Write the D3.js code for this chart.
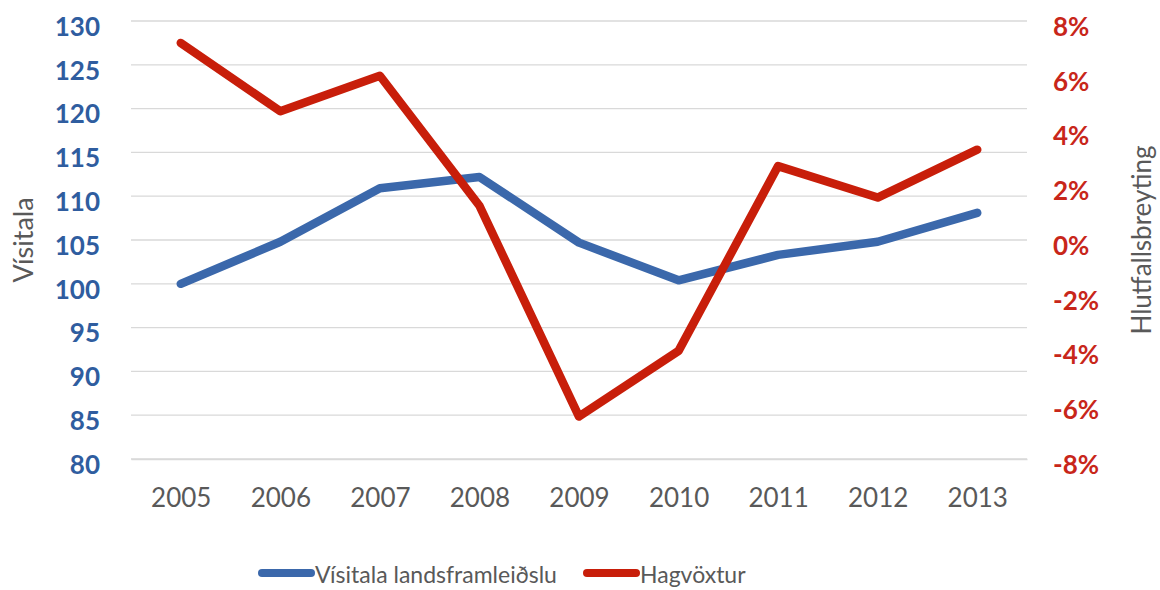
<!DOCTYPE html>
<html>
<head>
<meta charset="utf-8">
<script src="https://cdn.jsdelivr.net/npm/d3@7"></script>
<style>
  body { margin: 0; background: #fff; }
  svg { font-family: Lato, "Open Sans", sans-serif; }
</style>
</head>
<body>
<script>
// values
const years = ["2005", "2006", "2007", "2008", "2009", "2010", "2011", "2012", "2013"];
const indexValues = [100, 104.8, 110.9, 112.2, 104.7, 100.4, 103.3, 104.8, 108.1];
const growthValues = [0.072, 0.047, 0.060, 0.0125, -0.0645, -0.0405, 0.027, 0.0155, 0.033];
const leftTicks = [80, 85, 90, 95, 100, 105, 110, 115, 120, 125, 130];
const rightTicks = [-0.08, -0.06, -0.04, -0.02, 0, 0.02, 0.04, 0.06, 0.08];
const seriesNames = ["Vísitala landsframleiðslu", "Hagvöxtur"];
const leftTitle = "Vísitala";
const rightTitle = "Hlutfallsbreyting";

const blue = "#3b68ab", blueText = "#2f5d9f";
const red = "#c81e0a", redText = "#c8261a";
const grey = "#595959";

const width = 1160, height = 590;
const svg = d3.select("body").append("svg")
  .attr("width", width).attr("height", height);

const x = d3.scalePoint().domain(years).range([131, 1027]).padding(0.5);
const yL = d3.scaleLinear().domain([80, 130]).range([459, 21]);
const yR = d3.scaleLinear().domain([-0.08, 0.08]).range([459, 21]);

// gridlines
svg.append("g")
  .selectAll("line")
  .data(leftTicks)
  .enter()
  .append("line")
  .attr("x1", 131).attr("x2", 1027)
  .attr("y1", d => yL(d)).attr("y2", d => yL(d))
  .style("stroke", "#d9d9d9")
  .style("stroke-width", "1.3px");

// left axis
const leftAxis = d3.axisLeft(yL).tickValues(leftTicks).tickSize(0).tickPadding(31);
svg.append("g").attr("transform", "translate(131,0)").call(leftAxis)
  .call(g => g.select(".domain").remove())
  .selectAll("text")
  .attr("dy", "0.55em")
  .style("font-family", "Lato, 'Open Sans', sans-serif")
  .style("font-size", "26px")
  .style("font-weight", "bold")
  .style("fill", blueText);

// right axis
const rightAxis = d3.axisRight(yR).tickValues(rightTicks).tickSize(0).tickPadding(26)
  .tickFormat(d3.format(".0%"));
svg.append("g").attr("transform", "translate(1027,0)").call(rightAxis)
  .call(g => g.select(".domain").remove())
  .selectAll("text")
  .attr("dy", "0.55em")
  .text(d => d3.format(".0%")(d).replace("−", "-"))
  .style("font-family", "Lato, 'Open Sans', sans-serif")
  .style("font-size", "26px")
  .style("font-weight", "bold")
  .style("fill", redText);

// bottom axis
const bottomAxis = d3.axisBottom(x).tickSize(0).tickPadding(30);
svg.append("g").attr("transform", "translate(0,459)").call(bottomAxis)
  .call(g => g.select(".domain").style("stroke", "#d9d9d9").style("stroke-width", "1.3px"))
  .selectAll("text")
  .style("font-family", "Lato, 'Open Sans', sans-serif")
  .style("font-size", "26px")
  .style("fill", grey);

// axis titles
svg.append("text")
  .attr("transform", "translate(33,240) rotate(-90)")
  .attr("text-anchor", "middle")
  .style("font-size", "27px")
  .style("fill", grey)
  .text(leftTitle);

svg.append("text")
  .attr("transform", "translate(1151,240) rotate(-90)")
  .attr("text-anchor", "middle")
  .style("font-size", "26px")
  .style("fill", grey)
  .text(rightTitle);

// lines
const indexLine = d3.line()
  .x((d, i) => x(years[i]))
  .y(d => yL(d));
const growthLine = d3.line()
  .x((d, i) => x(years[i]))
  .y(d => yR(d));

svg.append("path")
  .datum(indexValues)
  .attr("d", indexLine)
  .style("fill", "none")
  .style("stroke", blue)
  .style("stroke-width", "8.5px")
  .style("stroke-linejoin", "round")
  .style("stroke-linecap", "round");

svg.append("path")
  .datum(growthValues)
  .attr("d", growthLine)
  .style("fill", "none")
  .style("stroke", red)
  .style("stroke-width", "8.5px")
  .style("stroke-linejoin", "round")
  .style("stroke-linecap", "round");

// legend
const legendItems = [
  { name: seriesNames[0], color: blue, x: 262 },
  { name: seriesNames[1], color: red, x: 587 }
];
const legend = svg.append("g")
  .selectAll("g")
  .data(legendItems)
  .enter()
  .append("g")
  .attr("transform", d => "translate(" + d.x + ",573)");

legend.append("line")
  .attr("x1", 0).attr("x2", 49)
  .attr("y1", 0).attr("y2", 0)
  .style("stroke", d => d.color)
  .style("stroke-width", "8px")
  .style("stroke-linecap", "round");

legend.append("text")
  .attr("x", 53)
  .attr("y", 10)
  .style("font-size", "23px")
  .style("fill", grey)
  .text(d => d.name);
</script>
</body>
</html>
